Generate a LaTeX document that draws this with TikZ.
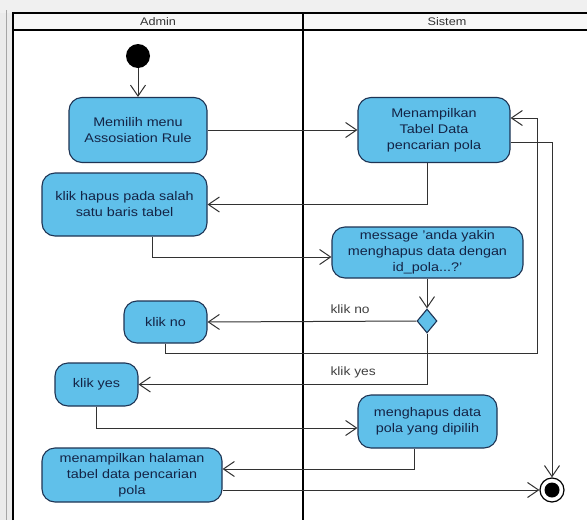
\documentclass[tikz,border=0pt]{standalone}
\usepackage{fontspec}
\setmainfont{Liberation Sans}[FakeStretch=1.15]
\usetikzlibrary{arrows.meta,shapes.geometric}
\definecolor{actfill}{RGB}{96,192,234}
\definecolor{actline}{RGB}{30,52,84}
\definecolor{acttext}{RGB}{20,36,70}
\definecolor{flow}{RGB}{50,50,50}
\tikzset{
  activity/.style={draw=actline, line width=1.1pt, fill=actfill, rounded corners=13pt,
    align=center, text=acttext, font=\fontsize{12.5}{16}\selectfont, inner sep=0pt},
  decision/.style={diamond, draw=actline, line width=1.1pt, fill=actfill, inner sep=0pt,
    minimum width=20pt, minimum height=24pt},
  flowline/.style={draw=flow, line width=1pt, -{Straight Barb[length=11pt,width=15pt,line width=1pt]}},
  guard/.style={text=black!75, font=\fontsize{12}{14}\selectfont, anchor=west},
  lanetitle/.style={text=black!80, font=\fontsize{11}{13}\selectfont},
  laneline/.style={draw=black, line width=1.5pt}
}
\begin{document}
\begin{tikzpicture}[x=1pt,y=-1pt]
\useasboundingbox (0,0) rectangle (587,520);
\fill[white] (0,0) rectangle (587,520);

% swimlane frame
\fill[black!6] (0,0) rectangle (587,13);
\fill[black!8] (0,13) rectangle (13,520);
\draw[black!35, line width=1pt] (6,10) -- (6,520);
\fill[black!3] (13,13) rectangle (587,30);
\draw[laneline] (13,520) -- (13,13) -- (587,13);
\draw[laneline] (13,30) -- (587,30);
\draw[draw=black, line width=2.6pt] (303,13) -- (303,520);
\node[lanetitle] (admin) at (158,22) {Admin};
\node[lanetitle] (sistem) at (447,22) {Sistem};

% initial and final nodes
\node[circle, fill=black, minimum size=24pt, inner sep=0pt] (start) at (138,56) {};
\node[circle, draw=black, line width=1.2pt, fill=white, minimum size=24pt, inner sep=0pt] (final) at (552,490) {};
\fill[black] (final) circle (7.5pt);

% activities
\node[activity, minimum width=138pt, minimum height=65pt] (memilih) at (138,130) {Memilih menu\\Assosiation Rule};
\node[activity, minimum width=152pt, minimum height=65pt] (tampil) at (434,130) {Menampilkan\\Tabel Data\\pencarian pola};
\node[activity, minimum width=165pt, minimum height=63pt] (hapus) at (124.5,204.5) {klik hapus pada salah\\satu baris tabel};
\node[activity, minimum width=191pt, minimum height=51pt] (msg) at (427.5,252.5) {message 'anda yakin\\menghapus data dengan\\id\_pola...?'};
\node[decision] (dec) at (427,321) {};
\node[activity, minimum width=83pt, minimum height=42pt] (no) at (165.5,322) {klik no};
\node[activity, minimum width=83pt, minimum height=43pt] (yes) at (96.5,384.5) {klik yes};
\node[activity, minimum width=139pt, minimum height=53pt] (hps) at (427.5,421.5) {menghapus data\\pola yang dipilih};
\node[activity, minimum width=180pt, minimum height=54pt] (hal) at (132,475) {menampilkan halaman\\tabel data pencarian\\pola};

\coordinate (loopback) at (537,353);

% control flows
\draw[flowline] (start) -- (memilih);
\draw[flowline] (memilih) -- (tampil);
\draw[flowline] ([xshift=-7pt]tampil.south) |- (hapus.east);
\draw[flowline] ([xshift=27.5pt]hapus.south) |- ([yshift=-4.5pt]msg.west);
\draw[flowline] (msg.south -| dec) -- (dec.north);
\draw[flowline] (dec.west) -- (no.east);
\node[guard] (gno) at (327,309) {klik no};
\draw[flowline] (no.south) |- (loopback) |- ([yshift=12pt]tampil.east);
\draw[flowline] (dec.south) |- (yes.east);
\node[guard] (gyes) at (327,372) {klik yes};
\draw[flowline] (yes.south) |- ([yshift=-6.5pt]hps.west);
\draw[flowline] ([xshift=-13.5pt]hps.south) |- ([yshift=6pt]hal.east);
\draw[flowline] ([yshift=-15pt]hal.east) -- (final.west);
\draw[flowline] ([yshift=-12pt]tampil.east) -| (final.north);
\end{tikzpicture}
\end{document}
